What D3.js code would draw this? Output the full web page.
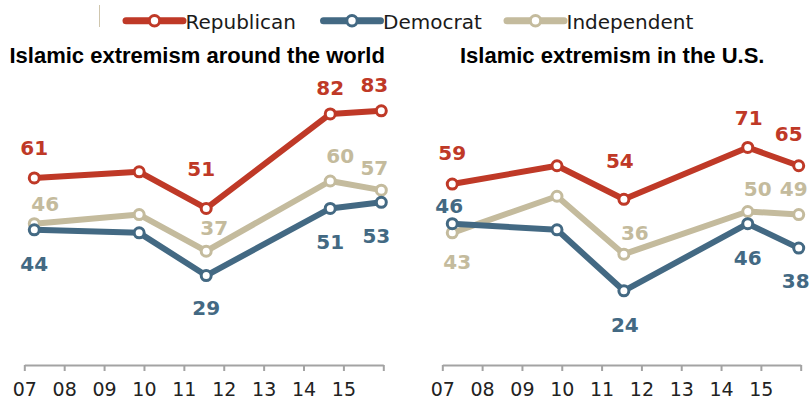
<!DOCTYPE html>
<html>
<head>
<meta charset="utf-8">
<script src="https://cdn.jsdelivr.net/npm/d3@7"></script>
<style>
  body { margin: 0; background: #fff; }
  svg { display: block; }
</style>
</head>
<body>
<svg id="chart" width="812" height="400"></svg>
<script>
// ---------------- DATA ----------------
const surveyDates = [2007.25, 2009.88, 2011.56, 2014.67, 2015.95];
const tickYears = [2007, 2008, 2009, 2010, 2011, 2012, 2013, 2014, 2015, 2016];
const tickLabels = ["07", "08", "09", "10", "11", "12", "13", "14", "15", ""];
const seriesNames = ["Republican", "Democrat", "Independent"];
const panelTitles = ["Islamic extremism around the world", "Islamic extremism in the U.S."];

const worldRepublican = [61, 63, 51, 82, 83];
const worldDemocrat   = [44, 43, 29, 51, 53];
const worldIndependent = [46, 49, 37, 60, 57];

const usRepublican = [59, 65, 54, 71, 65];
const usDemocrat   = [46, 44, 24, 46, 38];
const usIndependent = [43, 55, 36, 50, 49];

// ---------------- LAYOUT / STYLE ----------------
const colors = { Republican: "#bf3927", Democrat: "#436983", Independent: "#c4bb9d" };
// label offsets (dx, dy to label centre) per point; null = no label
const worldLabelOffsets = {
  Republican:  [[0, -30], null, [-5, -40], [0, -26], [-7, -26]],
  Independent: [[11, -20], null, [8, -23], [10, -25], [-7, -22]],
  Democrat:    [[0, 34], null, [0, 32], [0, 33], [-5, 33]]
};
const usLabelOffsets = {
  Republican:  [[0, -31], null, [-4, -39], [1, -30], [-10, -32]],
  Independent: [[5, 29], null, [11, -22], [10, -23], [-5, -26]],
  Democrat:    [[-3, -18], null, [1, 34], [0, 34], [-3, 33]]
};

const panels = [
  { title: panelTitles[0], titleX: 9.5, range: [24.3, 383.3],
    values: { Republican: worldRepublican, Democrat: worldDemocrat, Independent: worldIndependent },
    offsets: worldLabelOffsets },
  { title: panelTitles[1], titleX: 460, range: [442.3, 800.7],
    values: { Republican: usRepublican, Democrat: usDemocrat, Independent: usIndependent },
    offsets: usLabelOffsets }
];

const svg = d3.select("#chart");
const y = d3.scaleLinear().domain([0, 100]).range([364, 59]);
const drawOrder = ["Independent", "Democrat", "Republican"];

// ---------------- LEGEND ----------------
svg.append("line")
  .attr("x1", 99.5).attr("x2", 99.5).attr("y1", 5).attr("y2", 27)
  .attr("stroke", "#cfc6ae").attr("stroke-width", 1);

const legendX = [126, 323.5, 507];
seriesNames.forEach((name, i) => {
  const g = svg.append("g").attr("transform", `translate(${legendX[i]},20.7)`);
  g.append("line").attr("x1", 0).attr("x2", 57).attr("y1", 0).attr("y2", 0)
    .attr("stroke", colors[name]).attr("stroke-width", 7).attr("stroke-linecap", "round");
  g.append("circle").attr("cx", 28.5).attr("cy", 0).attr("r", 5.2)
    .attr("fill", "#fff").attr("stroke", colors[name]).attr("stroke-width", 3);
  g.append("text").attr("x", 59.5).attr("y", 8.6)
    .attr("font-family", "DejaVu Sans").attr("font-size", 20).attr("fill", "#1a1a1a")
    .text(name);
});

// ---------------- PANELS ----------------
panels.forEach(p => {
  const x = d3.scaleLinear().domain([2007, 2016]).range(p.range);

  svg.append("text")
    .attr("x", p.titleX).attr("y", 63)
    .attr("font-family", "Liberation Sans, Arial, sans-serif")
    .attr("font-weight", "bold").attr("font-size", 22).attr("fill", "#000")
    .text(p.title);

  const axis = d3.axisBottom(x)
    .tickValues(tickYears)
    .tickFormat((d, i) => tickLabels[i])
    .tickSizeInner(6).tickSizeOuter(0).tickPadding(12);

  const ag = svg.append("g").attr("transform", "translate(0,365)").call(axis);
  ag.select(".domain").attr("stroke", "#a3a3a3").attr("stroke-width", 2);
  ag.selectAll(".tick line").attr("stroke", "#a3a3a3").attr("stroke-width", 2);
  ag.selectAll(".tick text")
    .attr("font-family", "DejaVu Sans").attr("font-size", 19).attr("fill", "#222");

  const line = d3.line().x((d, i) => x(surveyDates[i])).y(d => y(d));

  drawOrder.forEach(name => {
    const vals = p.values[name];
    const g = svg.append("g");
    g.append("path").datum(vals)
      .attr("d", line).attr("fill", "none")
      .attr("stroke", colors[name]).attr("stroke-width", 6)
      .attr("stroke-linejoin", "round").attr("stroke-linecap", "round");
    g.selectAll("circle").data(vals).join("circle")
      .attr("cx", (d, i) => x(surveyDates[i])).attr("cy", d => y(d))
      .attr("r", 5).attr("fill", "#fff")
      .attr("stroke", colors[name]).attr("stroke-width", 3);
  });

  drawOrder.forEach(name => {
    const vals = p.values[name];
    const offs = p.offsets[name];
    vals.forEach((v, i) => {
      const o = offs[i];
      if (!o) return;
      svg.append("text")
        .attr("x", x(surveyDates[i]) + o[0])
        .attr("y", y(v) + o[1] + 7.3)
        .attr("text-anchor", "middle")
        .attr("font-family", "DejaVu Sans").attr("font-weight", "bold")
        .attr("font-size", 20).attr("fill", colors[name])
        .text(v);
    });
  });
});
</script>
</body>
</html>
